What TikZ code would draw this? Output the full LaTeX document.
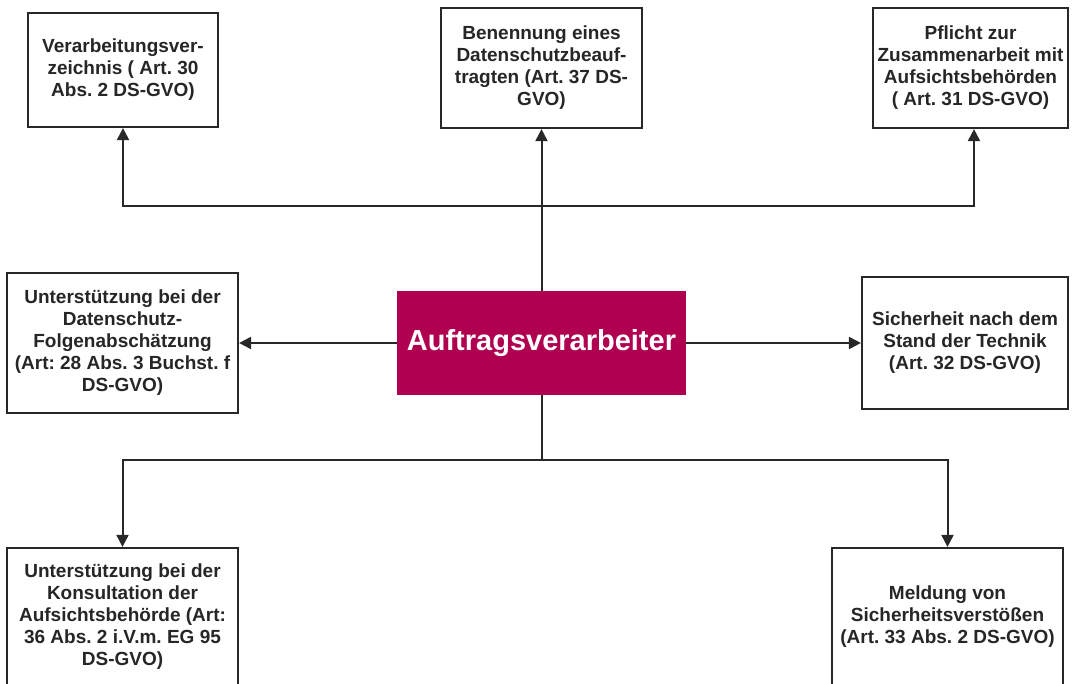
\documentclass[tikz,border=0pt]{standalone}
\usepackage{fontspec}
\setmainfont{Liberation Sans}
\usetikzlibrary{arrows.meta}
\definecolor{magbox}{RGB}{176,0,80}
\definecolor{linegray}{RGB}{40,40,40}
\begin{document}
\frenchspacing
\begin{tikzpicture}[x=1pt,y=-1pt,
  box/.style={draw=linegray,line width=2.2pt,fill=white,align=center,inner sep=0pt,
    font=\fontsize{19}{22}\selectfont\bfseries,text=black!85},
  conn/.style={draw=linegray,line width=2pt},
  arr/.style={conn,-{Triangle[length=12pt,width=12pt]}}]
\useasboundingbox (0,0) rectangle (1072,684);
\fill[white] (0,0) rectangle (1072,684);
\node[fill=magbox,minimum width=289pt,minimum height=104pt,inner sep=0pt,
  font=\fontsize{29}{33}\selectfont\bfseries,text=white] (c) at (541.5,343) {Auftragsverarbeiter};
\node[box,minimum width=190pt,minimum height=114pt] (tl) at (123,70)
  {Verarbeitungsver-\\zeichnis ( Art. 30\\Abs. 2 DS-GVO)};
\node[box,minimum width=201pt,minimum height=120pt] (tm) at (541.5,68)
  {Benennung eines\\Datenschutzbeauf-\\tragten (Art. 37 DS-\\GVO)};
\node[box,minimum width=195pt,minimum height=120pt] (tr) at (970.5,68)
  {Pflicht zur\\Zusammenarbeit mit\\Aufsichtsbehörden\\( Art. 31 DS-GVO)};
\node[box,minimum width=231pt,minimum height=140pt] (ml) at (122.5,343)
  {Unterstützung bei der\\Datenschutz-\\Folgenabschätzung\\(Art: 28 Abs. 3 Buchst. f\\DS-GVO)};
\node[box,minimum width=206pt,minimum height=132pt] (mr) at (965,343)
  {Sicherheit nach dem\\Stand der Technik\\(Art. 32 DS-GVO)};
\node[box,minimum width=231pt,minimum height=138pt] (bl) at (122.5,617)
  {Unterstützung bei der\\Konsultation der\\Aufsichtsbehörde (Art:\\36 Abs. 2 i.V.m. EG 95\\DS-GVO)};
\node[box,minimum width=231pt,minimum height=138pt] (br) at (947.5,617)
  {Meldung von\\Sicherheitsverstößen\\(Art. 33 Abs. 2 DS-GVO)};
\coordinate (jt) at (541.5,206);
\coordinate (jb) at (541.5,460);
\draw[arr] (c.north) -- (tm.south);
\draw[arr] (jt) -| (tl.south);
\draw[arr] (jt) -| ([xshift=3.5pt]tr.south);
\draw[arr] (c.west) -- (ml.east);
\draw[arr] (c.east) -- (mr.west);
\draw[conn] (c.south) -- (jb);
\draw[arr] (jb) -| (bl.north);
\draw[arr] (jb) -| (br.north);
\end{tikzpicture}
\end{document}
